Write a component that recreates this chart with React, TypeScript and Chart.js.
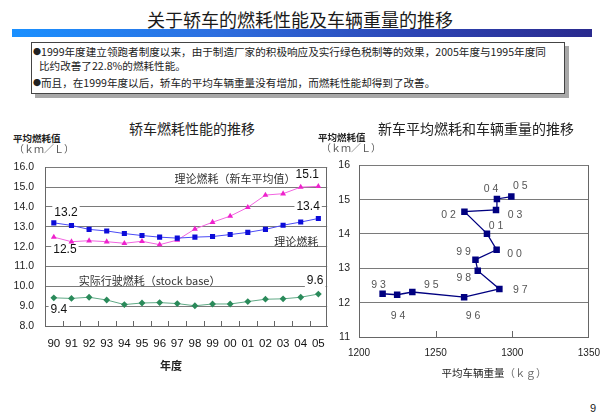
import React, { useEffect, useRef } from 'react';
import { Chart, registerables } from 'chart.js';

Chart.register(...registerables);

// ---------- data: left chart ----------
const years = ['90', '91', '92', '93', '94', '95', '96', '97', '98', '99', '00', '01', '02', '03', '04', '05'];
const theoryFuel = [13.2, 13.07, 12.87, 12.79, 12.66, 12.56, 12.48, 12.43, 12.48, 12.51, 12.61, 12.72, 12.87, 13.08, 13.24, 13.42];
const newCarFuel = [12.48, 12.25, 12.3, 12.25, 12.17, 12.27, 12.1, 12.33, 12.89, 13.23, 13.54, 13.98, 14.6, 14.67, 15.0, 15.04];
const actualFuel = [9.42, 9.39, 9.45, 9.31, 9.08, 9.16, 9.18, 9.13, 9.02, 9.11, 9.11, 9.23, 9.35, 9.37, 9.45, 9.61];
const leftYMin = 8;
const leftYMax = 16;

// annotation texts for left chart (anchored in data space: category index, value)
const leftNoteTexts = ['13.2', '12.5', '15.1', '13.4', '9.6', '9.4', '理论燃耗（新车平均值）', '理论燃耗', '实际行驶燃耗（stock base）'];
const leftNoteIdx = [0.69, 0.63, 14.37, 14.42, 14.82, 0.29, 10.28, 13.74, 5.43];
const leftNoteVal = [13.72, 11.83, 15.61, 14.01, 10.28, 8.82, 15.42, 12.22, 10.28];
const leftNoteBg = [true, true, false, true, true, true, false, false, false];

// ---------- data: right chart ----------
const pointYears = ['9 3', '9 4', '9 5', '9 6', '9 7', '9 8', '9 9', '0 0', '0 1', '0 2', '0 3', '0 4', '0 5'];
const avgWeight = [1215.4, 1224.9, 1234.8, 1268.6, 1291.6, 1277.5, 1276.0, 1289.8, 1283.5, 1268.8, 1289.4, 1290.0, 1299.4];
const avgFuel = [12.26, 12.23, 12.31, 12.16, 12.4, 12.93, 13.25, 13.54, 14.01, 14.65, 14.7, 15.02, 15.09];
const labelDx = [-4, 1, 19, 9, 21, -14, -12, 18, 9, -16, 19, -6, 9];
const labelDy = [-9, 21, -7, 19, 1, 7, -8, 4, -8, 3, 5, -10, -10];
const rightXMin = 1200;
const rightXMax = 1350;
const rightYMin = 11;
const rightYMax = 16;

const NUM_FONT = '"Liberation Sans", Arial, "Noto Sans CJK SC", sans-serif';
const CJK_FONT = '"Noto Sans CJK SC", "Liberation Sans", sans-serif';

const leftDecor = {
  id: 'leftDecor',
  beforeDatasetsDraw(chart: any) {
    const { ctx, chartArea: a, scales } = chart;
    const xs = scales.x;
    const ys = scales.y;
    ctx.save();
    ctx.strokeStyle = '#666';
    ctx.lineWidth = 1;
    ctx.beginPath();
    const rx = Math.round(a.right) - 0.5;
    ctx.moveTo(rx, a.top);
    ctx.lineTo(rx, a.bottom);
    for (let i = 1; i < years.length; i++) {
      const px = Math.round((xs.getPixelForValue(i - 1) + xs.getPixelForValue(i)) / 2) + 0.5;
      ctx.moveTo(px, a.bottom);
      ctx.lineTo(px, a.bottom - 5);
    }
    ctx.stroke();
    ctx.textAlign = 'center';
    ctx.textBaseline = 'middle';
    leftNoteTexts.forEach((t, i) => {
      const isNum = /^[0-9.]+$/.test(t);
      ctx.font = isNum ? `12px ${NUM_FONT}` : `11px ${CJK_FONT}`;
      const px = xs.getPixelForValue(leftNoteIdx[i]);
      const py = ys.getPixelForValue(leftNoteVal[i]);
      if (leftNoteBg[i]) {
        const w = ctx.measureText(t).width + 4;
        ctx.fillStyle = '#fff';
        ctx.fillRect(px - w / 2, py - 7, w, 14);
      }
      ctx.fillStyle = isNum ? '#111' : '#333';
      ctx.fillText(t, px, py);
    });
    ctx.restore();
  },
};

const rightDecor = {
  id: 'rightDecor',
  beforeDatasetsDraw(chart: any) {
    const { ctx, chartArea: a, scales } = chart;
    const xs = scales.x;
    ctx.save();
    ctx.strokeStyle = '#666';
    ctx.lineWidth = 1;
    ctx.beginPath();
    const rx = Math.round(a.right) - 0.5;
    ctx.moveTo(rx, a.top);
    ctx.lineTo(rx, a.bottom);
    [1250, 1300].forEach((v) => {
      const px = Math.round(xs.getPixelForValue(v)) + 0.5;
      ctx.moveTo(px, a.bottom);
      ctx.lineTo(px, a.bottom - 6);
    });
    ctx.stroke();
    ctx.restore();
  },
  afterDatasetsDraw(chart: any) {
    const { ctx, scales } = chart;
    const xs = scales.x;
    const ys = scales.y;
    ctx.save();
    ctx.font = `10.5px ${NUM_FONT}`;
    ctx.fillStyle = '#555';
    ctx.textAlign = 'center';
    ctx.textBaseline = 'middle';
    pointYears.forEach((t, i) => {
      const px = xs.getPixelForValue(avgWeight[i]) + labelDx[i];
      const py = ys.getPixelForValue(avgFuel[i]) + labelDy[i];
      ctx.fillText(t, px, py);
    });
    ctx.restore();
  },
};

function LeftChart() {
  const ref = useRef<HTMLCanvasElement>(null);
  useEffect(() => {
    const chart = new Chart(ref.current as HTMLCanvasElement, {
      type: 'line',
      data: {
        labels: years,
        datasets: [
          {
            data: theoryFuel,
            borderColor: '#4a4af5',
            borderWidth: 1,
            pointStyle: 'rect',
            pointRadius: 3.6,
            pointBackgroundColor: '#0c0cd8',
            pointBorderColor: '#0c0cd8',
            pointBorderWidth: 0,
          },
          {
            data: newCarFuel,
            borderColor: '#f264e0',
            borderWidth: 1,
            pointStyle: 'triangle',
            pointRadius: 3.4,
            pointBackgroundColor: '#ee22cc',
            pointBorderColor: '#ee22cc',
            pointBorderWidth: 0,
          },
          {
            data: actualFuel,
            borderColor: '#5fa985',
            borderWidth: 1,
            pointStyle: 'rectRot',
            pointRadius: 3.4,
            pointBackgroundColor: '#2a8a5a',
            pointBorderColor: '#2a8a5a',
            pointBorderWidth: 0,
          },
        ],
      },
      options: {
        responsive: false,
        animation: false,
        devicePixelRatio: 1,
        layout: { padding: { top: 11, right: 8, left: 0, bottom: 0 } },
        plugins: { legend: { display: false }, tooltip: { enabled: false } },
        scales: {
          x: {
            type: 'category',
            offset: true,
            grid: { display: false, drawTicks: false },
            border: { display: true, color: '#666' },
            ticks: {
              autoSkip: false,
              maxRotation: 0,
              padding: 11,
              color: '#111',
              font: { family: NUM_FONT, size: 11.5 },
            },
            afterFit: (s: any) => {
              s.height = 49;
            },
          },
          y: {
            min: leftYMin,
            max: leftYMax,
            grid: { color: '#7a7a7a', lineWidth: 1, drawTicks: false },
            border: { display: true, color: '#666' },
            ticks: {
              stepSize: 1,
              padding: 11,
              color: '#222',
              font: { family: NUM_FONT, size: 10.5 },
              callback: (v: any) => Number(v).toFixed(1),
            },
            afterFit: (s: any) => {
              s.width = 45;
            },
          },
        },
      },
      plugins: [leftDecor],
    } as any);
    return () => chart.destroy();
  }, []);
  return (
    <canvas
      ref={ref}
      width={336}
      height={225}
      style={{ position: 'absolute', left: 0, top: 150, width: 336, height: 225 }}
    />
  );
}

function RightChart() {
  const ref = useRef<HTMLCanvasElement>(null);
  useEffect(() => {
    const chart = new Chart(ref.current as HTMLCanvasElement, {
      type: 'line',
      data: {
        datasets: [
          {
            data: avgWeight.map((w, i) => ({ x: w, y: avgFuel[i] })),
            borderColor: '#000080',
            borderWidth: 1.3,
            pointStyle: 'rect',
            pointRadius: 4.6,
            pointBackgroundColor: '#000080',
            pointBorderColor: '#000080',
            pointBorderWidth: 0,
          },
        ],
      },
      options: {
        responsive: false,
        animation: false,
        devicePixelRatio: 1,
        layout: { padding: { top: 8, right: 8, left: 0, bottom: 0 } },
        plugins: { legend: { display: false }, tooltip: { enabled: false } },
        scales: {
          x: {
            type: 'linear',
            min: rightXMin,
            max: rightXMax,
            grid: { display: false, drawTicks: false },
            border: { display: true, color: '#666' },
            ticks: {
              stepSize: 50,
              padding: 10,
              color: '#222',
              font: { family: NUM_FONT, size: 10 },
              callback: (v: any) => String(v),
            },
            afterFit: (s: any) => {
              s.height = 38;
            },
          },
          y: {
            min: rightYMin,
            max: rightYMax,
            grid: { color: '#7a7a7a', lineWidth: 1, drawTicks: false },
            border: { display: true, color: '#666' },
            ticks: {
              stepSize: 1,
              padding: 9,
              color: '#222',
              font: { family: NUM_FONT, size: 10.5 },
            },
            afterFit: (s: any) => {
              s.width = 54;
            },
          },
        },
      },
      plugins: [rightDecor],
    } as any);
    return () => chart.destroy();
  }, []);
  return (
    <canvas
      ref={ref}
      width={305}
      height={225}
      style={{ position: 'absolute', left: 305, top: 150, width: 305, height: 225 }}
    />
  );
}

const T = ({ x, y, children, style }: any) => (
  <div
    style={{
      position: 'absolute',
      left: x,
      top: y,
      transform: 'translate(-50%, -50%)',
      whiteSpace: 'nowrap',
      lineHeight: 1,
      ...style,
    }}
  >
    {children}
  </div>
);

const L = ({ x, y, children, style }: any) => (
  <div
    style={{
      position: 'absolute',
      left: x,
      top: y,
      transform: 'translateY(-50%)',
      whiteSpace: 'nowrap',
      lineHeight: 1,
      ...style,
    }}
  >
    {children}
  </div>
);

const Bullet = () => <span style={{ fontSize: 8, verticalAlign: '1px' }}>●</span>;

export default function App() {
  return (
    <div
      style={{
        position: 'absolute',
        left: 0,
        top: 0,
        width: 600,
        height: 415,
        background: '#fff',
        overflow: 'hidden',
        fontFamily: CJK_FONT,
        color: '#222',
      }}
    >
      <T x={300} y={19} style={{ fontSize: 18, color: '#1a1a1a' }}>
        关于轿车的燃耗性能及车辆重量的推移
      </T>
      <div
        style={{
          position: 'absolute',
          left: 12,
          top: 29,
          width: 580,
          height: 8,
          background: 'linear-gradient(90deg, #1a90ff 0%, #2d6fe0 35%, #2c44b4 70%, #2a2a8e 100%)',
        }}
      />
      <div style={{ position: 'absolute', left: 35, top: 46, width: 534, height: 52, background: '#a8a8a8' }} />
      <div
        style={{
          position: 'absolute',
          left: 31,
          top: 42,
          width: 534,
          height: 52,
          background: '#fff',
          border: '1px solid #444',
          boxSizing: 'border-box',
        }}
      />
      <L x={33} y={52} style={{ fontSize: 10.6 }}>
        <Bullet />1999年度建立领跑者制度以来，由于制造厂家的积极响应及实行绿色税制等的效果，2005年度与1995年度同
      </L>
      <L x={39} y={66} style={{ fontSize: 10.6 }}>
        比约改善了22.8%的燃耗性能。
      </L>
      <L x={33} y={83} style={{ fontSize: 10.6 }}>
        <Bullet />而且，在1999年度以后，轿车的平均车辆重量没有增加，而燃耗性能却得到了改善。
      </L>

      <LeftChart />
      <RightChart />

      <T x={192} y={128} style={{ fontSize: 14 }}>轿车燃耗性能的推移</T>
      <T x={476} y={128} style={{ fontSize: 14 }}>新车平均燃耗和车辆重量的推移</T>

      <L x={13} y={139} style={{ fontSize: 9.5, fontWeight: 'bold' }}>平均燃耗值</L>
      <L x={14} y={149} style={{ fontSize: 10, color: '#555' }}>（ｋｍ／Ｌ）</L>
      <L x={318} y={138} style={{ fontSize: 9.5, fontWeight: 'bold' }}>平均燃耗值</L>
      <L x={321} y={148} style={{ fontSize: 10, color: '#555' }}>（ｋｍ／Ｌ）</L>

      <T x={171} y={365} style={{ fontSize: 11, fontWeight: 'bold' }}>年度</T>
      <T x={494} y={373} style={{ fontSize: 10.5 }}>
        平均车辆重量<span style={{ color: '#666' }}>（ｋｇ）</span>
      </T>

      <T x={593} y={408} style={{ fontSize: 11, fontFamily: NUM_FONT }}>9</T>
    </div>
  );
}
